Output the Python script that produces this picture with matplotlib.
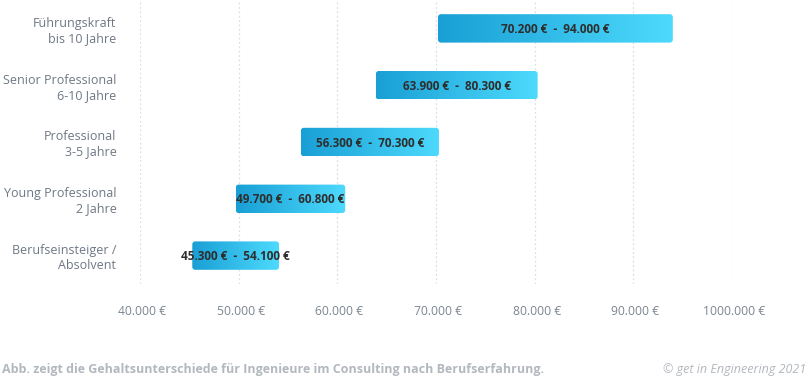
import numpy as np
import matplotlib
matplotlib.use("Agg")
from matplotlib import pyplot as plt
from matplotlib.patches import FancyBboxPatch
from matplotlib.colors import LinearSegmentedColormap
from matplotlib.transforms import ScaledTranslation

# daten
categories = ["Führungskraft\nbis 10 Jahre", "Senior Professional\n6-10 Jahre",
              "Professional\n3-5 Jahre", "Young Professional\n2 Jahre",
              "Berufseinsteiger /\nAbsolvent"]
salary_min = [70200, 63900, 56300, 49700, 45300]
salary_max = [94000, 80300, 70300, 60800, 54100]
bar_labels = ["70.200 €  -  94.000 €", "63.900 €  -  80.300 €", "56.300 €  -  70.300 €",
              "49.700 €  -  60.800 €", "45.300 €  -  54.100 €"]
tick_values = [40000, 50000, 60000, 70000, 80000, 90000, 100000]
tick_labels = ["40.000 €", "50.000 €", "60.000 €", "70.000 €", "80.000 €", "90.000 €", "1000.000 €"]

plt.rcParams["font.family"] = ["Open Sans", "DejaVu Sans"]

fig = plt.figure(figsize=(8.08, 3.77), dpi=100)
ax = fig.add_axes([140 / 808, 1 - 284 / 377, 592 / 808, 284 / 377])

y = np.arange(len(categories))

cmap = LinearSegmentedColormap.from_list("grad", ["#199fd5", "#4ddafd"])
grad = np.linspace(0, 1, 256).reshape(1, -1)
h = 0.5
# mutation_aspect, damit die Ecken in Pixeln rund aussehen
aspect = (5 / 284) / (60000 / 592)

bars = ax.barh(y, np.array(salary_max) - np.array(salary_min), left=salary_min,
               height=h, color="none", edgecolor="none")
for i, b in enumerate(bars):
    x0, x1 = salary_min[i], salary_max[i]
    patch = FancyBboxPatch((x0, y[i] - h / 2), x1 - x0, h,
                           boxstyle="round,pad=0,rounding_size=300",
                           mutation_aspect=aspect, facecolor="none", edgecolor="none")
    ax.add_patch(patch)
    im = ax.imshow(grad, cmap=cmap, aspect="auto",
                   extent=(x0, x1, y[i] + h / 2, y[i] - h / 2), zorder=2)
    im.set_clip_path(patch)
    ax.text((x0 + x1) / 2, y[i] + 0.02, bar_labels[i], ha="center", va="center",
            fontsize=8.5, fontweight="bold", color="#2e2e2e", zorder=3)

ax.set_xlim(40000, 100000)
ax.set_ylim(len(categories) - 0.5, -0.5)

for v in tick_values:
    ax.axvline(v, color="#d5e1ea", linestyle=(0, (1.5, 2)), linewidth=0.9, zorder=0)

ax.set_yticks(y)
ax.set_yticklabels(categories, fontsize=9, color="#6e7884", linespacing=1.2)
ax.set_xticks(tick_values)
ax.set_xticklabels(tick_labels, fontsize=8.7, color="#7b8590")
ax.tick_params(axis="y", length=0, pad=17)
ax.tick_params(axis="x", length=0, pad=15)
shift = ScaledTranslation(2 / 100, 0, fig.dpi_scale_trans)
for lbl in ax.get_xticklabels():
    lbl.set_transform(lbl.get_transform() + shift)
for s in ax.spines.values():
    s.set_visible(False)

fig.text(2 / 808, 1 - 369 / 377, "Abb. zeigt die Gehaltsunterschiede für Ingenieure im Consulting nach Berufserfahrung.",
         fontsize=9, fontweight="bold", color="#b3b8be", ha="left", va="center")
fig.text(806 / 808, 1 - 369 / 377, "© get in Engineering 2021", fontsize=9, style="italic",
         color="#b3b8be", ha="right", va="center")

plt.savefig("out.png", dpi=100)
plt.close()
